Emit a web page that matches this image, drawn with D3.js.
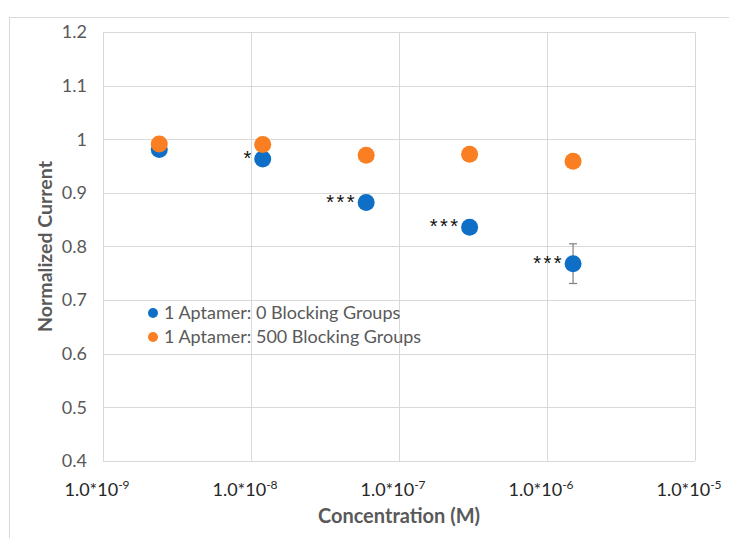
<!DOCTYPE html>
<html><head><meta charset="utf-8">
<script src="https://cdn.jsdelivr.net/npm/d3@7"></script>
<style>body{margin:0;background:#fff}svg{display:block}</style>
</head><body>
<script>
const concentrations = [2.4e-9, 1.2e-8, 6e-8, 3e-7, 1.5e-6];
const blueValues = [0.981, 0.963, 0.882, 0.836, 0.768];
const blueErrors = [0.004, 0.005, 0.006, 0.006, 0.037];
const orangeValues = [0.991, 0.990, 0.970, 0.972, 0.959];
const significance = ["", "*", "***", "***", "***"];
const seriesNames = ["1 Aptamer: 0 Blocking Groups", "1 Aptamer: 500 Blocking Groups"];
const xTickExponents = [-9, -8, -7, -6, -5];
const yTicks = [0.4, 0.5, 0.6, 0.7, 0.8, 0.9, 1, 1.1, 1.2];

const W = 729, H = 538;
const m = {left: 103, right: 695, top: 32, bottom: 461};
const svg = d3.select("body").append("svg").attr("width", W).attr("height", H);
const font = "Lato, 'Open Sans', sans-serif";

svg.append("rect").attr("x", 9.5).attr("y", 17.5).attr("width", 740).attr("height", 540)
  .attr("fill", "#fff").attr("stroke", "#d9d9d9");

const x = d3.scaleLog().domain([1e-9, 1e-5]).range([m.left, m.right]);
const y = d3.scaleLinear().domain([0.4, 1.2]).range([m.bottom, m.top]);

// gridlines
svg.append("g").selectAll("line").data(yTicks).join("line")
  .attr("x1", m.left).attr("x2", m.right)
  .attr("y1", d => Math.round(y(d)) + 0.5).attr("y2", d => Math.round(y(d)) + 0.5)
  .attr("stroke", "#d9d9d9");
svg.append("g").selectAll("line").data(xTickExponents).join("line")
  .attr("y1", m.top).attr("y2", m.bottom)
  .attr("x1", d => Math.round(x(Math.pow(10, d))) + 0.5).attr("x2", d => Math.round(x(Math.pow(10, d))) + 0.5)
  .attr("stroke", "#d9d9d9");

// y axis labels
const yAxis = d3.axisLeft(y).tickValues(yTicks).tickSize(0).tickPadding(16)
  .tickFormat(d => d === 1 ? "1" : d3.format(".1f")(d));
const gy = svg.append("g").attr("transform", `translate(${m.left},0)`).call(yAxis);
gy.select(".domain").remove();
gy.selectAll("text").attr("font-family", font).attr("font-size", 18).attr("fill", "#595959");

// x axis labels
const xl = svg.append("g").selectAll("text").data(xTickExponents).join("text")
  .attr("x", d => x(Math.pow(10, d)) - 6).attr("y", 496)
  .attr("text-anchor", "middle").attr("font-family", font).attr("font-size", 18).attr("fill", "#262626");
xl.append("tspan").text("1.0*10");
xl.append("tspan").attr("font-size", 12).attr("dy", -7).text(d => d);

// axis titles
svg.append("text").attr("x", (m.left + m.right) / 2).attr("y", 523).attr("text-anchor", "middle")
  .attr("font-family", font).attr("font-weight", "bold").attr("font-size", 20).attr("fill", "#595959")
  .text("Concentration (M)");
svg.append("text").attr("transform", `translate(52,${(m.top + m.bottom) / 2}) rotate(-90)`)
  .attr("text-anchor", "middle").attr("font-family", font).attr("font-weight", "bold")
  .attr("font-size", 19.5).attr("fill", "#595959").text("Normalized Current");

const blueColor = "#0f6fc6", orangeColor = "#f97f22";
const blueData = concentrations.map((c, i) => ({c, v: blueValues[i], e: blueErrors[i], s: significance[i]}));
const orangeData = concentrations.map((c, i) => ({c, v: orangeValues[i]}));

// error bars
const eb = svg.append("g").attr("stroke", "#7f7f7f").attr("stroke-width", 1.2);
blueData.forEach(d => {
  const cx = x(d.c);
  eb.append("line").attr("x1", cx).attr("x2", cx).attr("y1", y(d.v + d.e)).attr("y2", y(d.v - d.e));
  eb.append("line").attr("x1", cx - 4).attr("x2", cx + 4).attr("y1", y(d.v + d.e)).attr("y2", y(d.v + d.e));
  eb.append("line").attr("x1", cx - 4).attr("x2", cx + 4).attr("y1", y(d.v - d.e)).attr("y2", y(d.v - d.e));
});

svg.append("g").selectAll("circle").data(blueData).join("circle")
  .attr("cx", d => x(d.c)).attr("cy", d => y(d.v)).attr("r", 8.5).attr("fill", blueColor);
svg.append("g").selectAll("circle").data(orangeData).join("circle")
  .attr("cx", d => x(d.c)).attr("cy", d => y(d.v)).attr("r", 8.5).attr("fill", orangeColor);

// significance stars
svg.append("g").selectAll("text").data(blueData.filter(d => d.s)).join("text")
  .attr("x", d => x(d.c) - 9).attr("y", d => y(d.v) + 6).attr("text-anchor", "end")
  .attr("font-family", "'Liberation Sans', Arial, sans-serif").attr("font-size", 20)
  .attr("letter-spacing", 2.5).attr("fill", "#111")
  .text(d => d.s);

// legend
const lg = svg.append("g");
[blueColor, orangeColor].forEach((c, i) => {
  lg.append("circle").attr("cx", 153).attr("cy", 313 + i * 24).attr("r", 5).attr("fill", c);
  lg.append("text").attr("x", 164).attr("y", 313 + i * 24 + 6).attr("font-family", font)
    .attr("font-size", 18).attr("fill", "#595959").text(seriesNames[i]);
});
</script>
</body></html>
